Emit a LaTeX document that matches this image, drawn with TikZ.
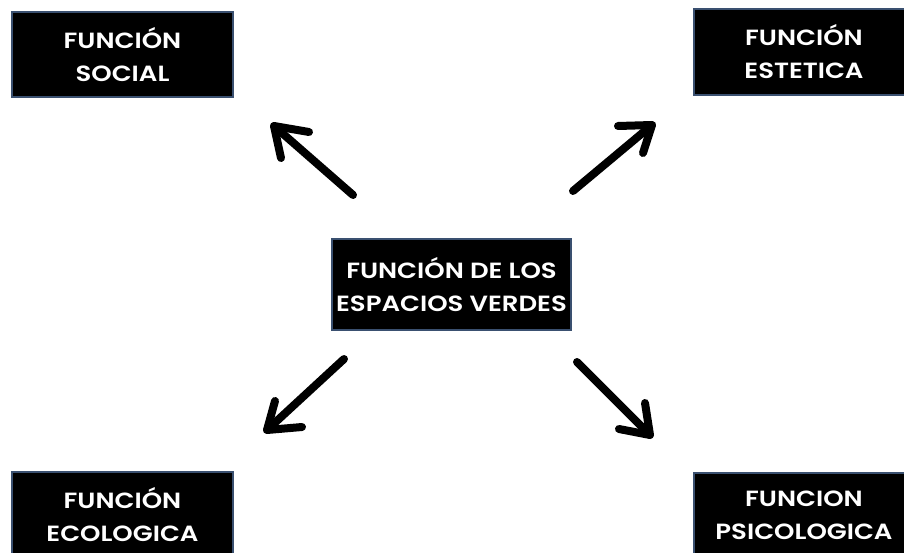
\documentclass[tikz,border=0pt]{standalone}
\usepackage{fontspec}
\setmainfont{Poppins}[UprightFont=* SemiBold, BoldFont=* SemiBold, BoldFeatures={FakeStretch=1.18}]
\definecolor{boxedge}{HTML}{3A5070}
\tikzset{
  fbox/.style={draw=boxedge, line width=1.6pt, fill=black, text=white, align=center,
    font=\fontsize{22}{33}\selectfont\bfseries, inner sep=0pt},
  arr/.style={line width=8pt, line cap=round, line join=round, black}
}
\begin{document}
\begin{tikzpicture}[x=1pt,y=-1pt]
\useasboundingbox (0,0) rectangle (904,553);
\node[fbox, minimum width=221pt, minimum height=85pt] (social) at (122.5,54.5) {FUNCIÓN\\SOCIAL};
\node[fbox, minimum width=220pt, minimum height=86pt] (estetica) at (804,52) {FUNCIÓN\\ESTETICA};
\node[fbox, minimum width=239pt, minimum height=91pt] (centro) at (451.5,284.5) {FUNCIÓN DE LOS\\ESPACIOS VERDES};
\node[fbox, minimum width=221pt, minimum height=85pt] (ecologica) at (122.5,514.5) {FUNCIÓN\\ECOLOGICA};
\node[fbox, minimum width=220pt, minimum height=85pt] (psico) at (804,515.5) {FUNCION\\PSICOLOGICA};
% arrow NW
\coordinate (nwt) at (353,195);
\coordinate (nwh) at (274,126);
\coordinate (nwa) at (309,132);
\coordinate (nwb) at (281,158);
\draw[arr] (nwt) -- (nwh);
\draw[arr] (nwa) -- (nwh) -- (nwb);
% arrow NE
\coordinate (net) at (573,191);
\coordinate (neh) at (652,125);
\coordinate (nea) at (618,126);
\coordinate (neb) at (643,153);
\draw[arr] (net) -- (neh);
\draw[arr] (nea) -- (neh) -- (neb);
% arrow SW
\coordinate (swt) at (344,359);
\coordinate (swh) at (267,430);
\coordinate (swa) at (275,401);
\coordinate (swb) at (302,427);
\draw[arr] (swt) -- (swh);
\draw[arr] (swa) -- (swh) -- (swb);
% arrow SE
\coordinate (set) at (577,362);
\coordinate (seh) at (650,435);
\coordinate (sea) at (645,403);
\coordinate (seb) at (619,429);
\draw[arr] (set) -- (seh);
\draw[arr] (sea) -- (seh) -- (seb);
\end{tikzpicture}
\end{document}
